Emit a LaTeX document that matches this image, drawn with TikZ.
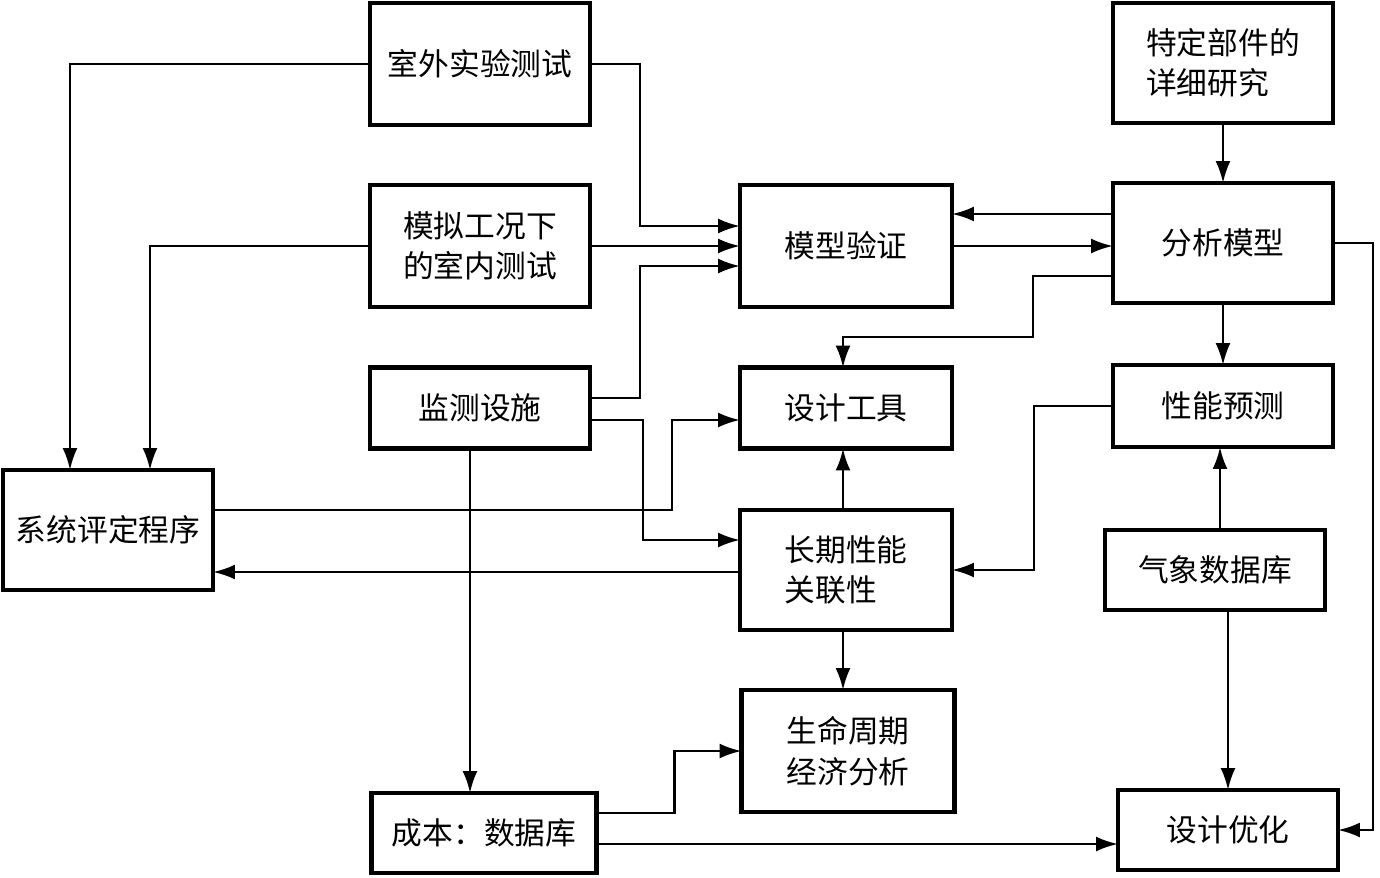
\documentclass[tikz,border=0pt]{standalone}
\usepackage{fontspec}
\newfontfamily\cjk{Noto Sans CJK SC}
\usetikzlibrary{arrows.meta, calc}

\begin{document}
\begin{tikzpicture}[x=0.02cm, y=-0.02cm,
		box/.style={draw, line width=2.4pt, minimum width=#1, inner sep=2pt, outer sep=0pt,
			align=left, font=\cjk\fontsize{17.5}{23}\selectfont},
		box/.default=4.4cm,
		arr/.style={line width=1.5pt, -{Latex[length=4.4mm, width=3mm]}}]
	\useasboundingbox (0,0) rectangle (1380,877);

	\node[box, minimum height=2.44cm] (sw) at (480,64) {室外实验测试};
	\node[box, minimum height=2.4cm] (tj) at (1223,63) {特定部件的\\详细研究};
	\node[box, minimum height=2.44cm] (sn) at (480,246) {模拟工况下\\的室内测试};
	\node[box=4.24cm, minimum height=2.44cm] (mv) at (846,246) {模型验证};
	\node[box, minimum height=2.4cm] (fx) at (1223,243) {分析模型};
	\node[box, minimum height=1.62cm] (jc) at (480,408) {监测设施};
	\node[box=4.24cm, minimum height=1.62cm] (sj) at (846,408) {设计工具};
	\node[box, minimum height=1.64cm] (xn) at (1223,406) {性能预测};
	\node[box=4.2cm, minimum height=2.4cm] (xt) at (108,530) {系统评定程序};
	\node[box=4.24cm, minimum height=2.4cm] (cq) at (846,570) {长期性能\\关联性};
	\node[box, minimum height=1.6cm] (qx) at (1215,570) {气象数据库};
	\node[box=4.26cm, minimum height=2.44cm] (sm) at (848,751) {生命周期\\经济分析};
	\node[box=4.5cm, minimum height=1.6cm] (cb) at (484,833) {成本：数据库};
	\node[box, minimum height=1.6cm] (yh) at (1228,830) {设计优化};

	\coordinate (cbu) at ($(cb.east)+(0,-20)$);
	\coordinate (cbd) at ($(cb.east)+(0,11)$);

	\draw[arr] (sw.east) -- ++(50,0) |- ($(mv.west)+(0,-20)$);
	\draw[arr] (sw.west) -| ($(xt.north)+(-38,0)$);
	\draw[arr] (sn.east) -- (mv.west);
	\draw[arr] (sn.west) -| ($(xt.north)+(42,0)$);
	\draw[arr] ($(jc.east)+(0,-10)$) -- ++(50,0) |- ($(mv.west)+(0,20)$);
	\draw[arr] ($(jc.east)+(0,12)$) -- ++(53,0) |- ($(cq.west)+(0,-30)$);
	\draw[arr] ($(jc.south)+(-10,0)$) -- ($(cb.north)+(-14,0)$);
	\draw[arr] ($(xt.east)+(0,-20)$) -- ++(459,0) |- ($(sj.west)+(0,12)$);
	\draw[arr] ($(cq.west)+(0,2)$) -- ($(xt.east)+(0,42)$);

	\draw[arr] ($(fx.west)+(0,-29)$) -- ($(mv.east)+(0,-32)$);
	\draw[arr] (mv.east) -- (mv.east -| fx.west);
	\draw[arr] ($(fx.west)+(0,33)$) -- ++(-80,0) -- ++(0,61) -| ($(sj.north)+(-3,0)$);
	\draw[arr] (tj.south) -- (fx.north);
	\draw[arr] (fx.south) -- (xn.north);
	\draw[arr] (fx.east) -- ++(40,0) |- (yh.east);
	\draw[arr] (xn.west) -- ++(-79,0) |- (cq.east);
	\draw[arr] ($(qx.north)+(5,0)$) -- ($(xn.south)+(-3,0)$);
	\draw[arr] (qx.south -| yh.north) -- (yh.north);

	\draw[arr] ($(cq.north)+(-3,0)$) -- ($(sj.south)+(-3,0)$);
	\draw[arr] ($(cq.south)+(-3,0)$) -- ($(cq.south |- sm.north)+(-3,0)$);
	\draw[arr] (cbu) -- ++(78,0) |- (sm.west);
	\draw[arr] (cbd) -- (cbd -| yh.west);
\end{tikzpicture}
\end{document}
